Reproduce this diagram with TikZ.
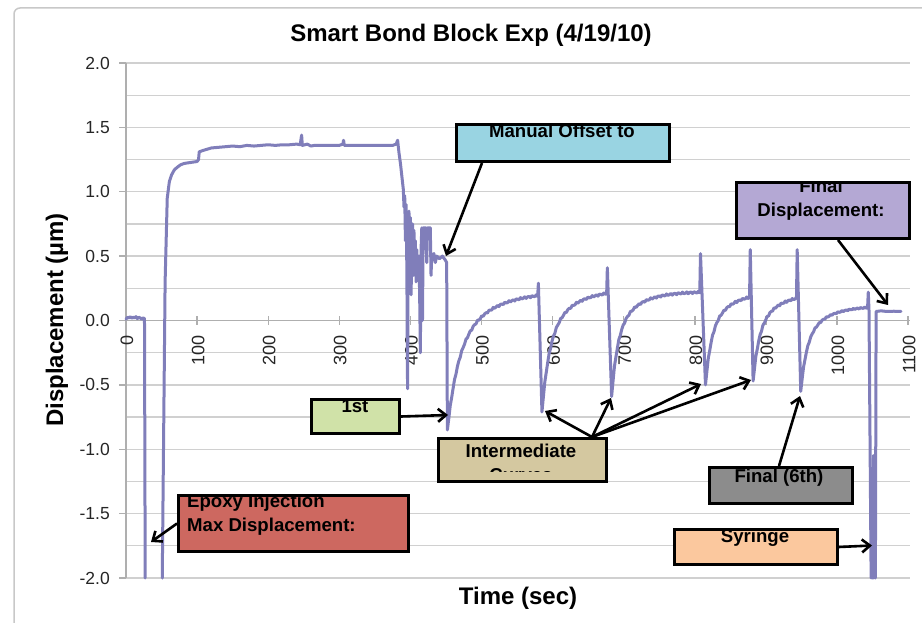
\documentclass[tikz,border=0pt]{standalone}
\usepackage{fontspec}
\setmainfont{Liberation Sans}
\usetikzlibrary{arrows.meta,calc}
\definecolor{gridc}{RGB}{208,208,208}
\definecolor{axisc}{RGB}{175,175,175}
\definecolor{framec}{RGB}{200,200,200}
\definecolor{curvec}{RGB}{128,126,186}
\definecolor{cblue}{RGB}{153,212,226}
\definecolor{cpurple}{RGB}{180,168,212}
\definecolor{cgreen}{RGB}{208,226,168}
\definecolor{ctan}{RGB}{212,200,160}
\definecolor{cgray}{RGB}{140,140,140}
\definecolor{cpeach}{RGB}{251,200,158}
\definecolor{cred}{RGB}{205,104,96}
\begin{document}
\begin{tikzpicture}[x=1pt,y=-1pt,
  gridline/.style={draw=gridc, line width=1.3pt},
  axisline/.style={draw=axisc, line width=1.4pt},
  curve/.style={draw=curvec, line width=3pt, line join=round, line cap=round},
  callout/.style={draw=black, line width=3pt, inner sep=0pt, anchor=north west},
  calltext/.style={font=\fontsize{18.6}{22}\selectfont\bfseries, inner sep=0pt, anchor=base},
  pointer/.style={draw=black, line width=2.6pt, -{Straight Barb[length=8pt,width=13pt,line width=2.6pt]}},
  ticklab/.style={font=\fontsize{17.5}{20}\selectfont, text=black!85, inner sep=0pt},
  xticklab/.style={font=\fontsize{18}{20}\selectfont, text=black!85, inner sep=0pt},
  axtitle/.style={font=\fontsize{24}{28}\selectfont\bfseries, inner sep=0pt},
  declare function={rec(\s,\a,\b)=0.57*(1-exp(-\s/\a))+0.43*(1-exp(-\s/\b));}
]
\useasboundingbox (0,0) rectangle (922,623);
\fill[white] (0,0) rectangle (922,623);
% outer chart frame
\draw[framec, line width=1.5pt, rounded corners=6pt] (14,8) rectangle (1000,700);

% title and axis titles
\node[axtitle] (title) at (471,35) {Smart Bond Block Exp (4/19/10)};
\node[axtitle, rotate=90] (ytitle) at (57,320) {Displacement (µm)};
\node[axtitle] (xtitle) at (518,598) {Time (sec)};

% grid
\foreach \i in {0,...,16}{
  \draw[gridline] (126,{63+\i*32.1875}) -- (910,{63+\i*32.1875});
}
\draw[axisline] (126,63) -- (126,578);
\draw[axisline] (126,320.5) -- (910,320.5);
% y ticks and labels
\foreach \lab [count=\k from 0] in {2.0,1.5,1.0,0.5,0.0,-0.5,-1.0,-1.5,-2.0}{
  \draw[axisline] (119,{63+\k*64.375}) -- (126,{63+\k*64.375});
  \node[ticklab, anchor=east] (yl\k) at (110,{63+\k*64.375}) {\lab};
}
% x ticks and labels
\foreach \t [count=\k] in {0,100,200,300,400,500,600,700,800,900,1000,1100}{
  \draw[axisline] ({126+\t*0.711},316) -- ({126+\t*0.711},325);
  \node[xticklab, rotate=90, anchor=east] (xl\k) at ({127+\t*0.711},335) {\t};
}

% data curve
\begin{scope}[shift={(126pt,-320.5pt)}, x=0.711pt, y=128.75pt]
\draw[curve] (0,0.01) -- (2,0.025) -- (4,0.02) -- (6,0.03) -- (8,0.018) -- (10,0.025) -- (12,0.02) -- (14,0.03) -- (16,0.015) -- (18,0.025) -- (20,0.02) -- (22,0.01) -- (24,0.02) -- (26,0.015) -- (27,-2);
\draw[curve] (51,-2) -- (55,0.3) -- (58,0.95) -- (61,1.08) -- (64,1.13) -- (68,1.17) -- (72,1.19) -- (77,1.21) -- (82,1.22) -- (88,1.225) -- (94,1.23) -- (100,1.235) -- (102,1.25) -- (103,1.31) -- (108,1.32) -- (114,1.33) -- (120,1.34) -- (130,1.345)
 -- (140,1.35) -- (150,1.355) -- (160,1.35) -- (170,1.36) -- (180,1.355) -- (190,1.36) -- (200,1.365) -- (210,1.36) -- (220,1.365) -- (230,1.365) -- (240,1.37) -- (245,1.365) -- (247,1.44) -- (248,1.36) -- (255,1.37) -- (260,1.355) -- (265,1.36) -- (270,1.36) -- (280,1.36) -- (290,1.36) -- (300,1.36) -- (305,1.37) -- (306,1.40) -- (307,1.36) -- (315,1.36) -- (325,1.36) -- (335,1.36) -- (345,1.36) -- (355,1.36) -- (365,1.36) -- (375,1.36) -- (380,1.37)
 -- (382,1.40) -- (384,1.30) -- (386,1.22) -- (388,1.12) -- (390,1.02) -- (391,0.88) -- (392,0.97) -- (393,0.62) -- (394,0.90) -- (395,0.40) -- (396,-0.53) -- (397,0.70) -- (398,0.85) -- (399,0.30) -- (400,0.80) -- (401,0.20) -- (402,0.62) -- (403,0.75) -- (404,0.35) -- (405,0.70) -- (406,0.45) -- (407,0.62) -- (408,0.30) -- (409,0.55) -- (410,0.40) -- (412,0.50) -- (413,0.20) -- (414,-0.25) -- (415,0.55) -- (416,0.72) -- (417,0.0) -- (418,0.72) -- (422,0.72) -- (423,0.45) -- (424,0.72) -- (428,0.72) -- (429,0.35) -- (430,0.50) -- (433,0.52) -- (435,0.45) -- (437,0.50) -- (441,0.48) -- (445,0.50) -- (449,0.47) -- (451,0.45) -- (452,-0.85)
 -- plot[domain=0:127, samples=64] ({452+\x},{-0.85+1.08*rec(\x,15,50)+0.008*sin(113*\x)})
 -- (580,0.29) -- (585,-0.71)
 -- plot[domain=0:91, samples=46] ({585+\x},{-0.71+0.95*rec(\x,10,35)+0.008*sin(113*\x)})
 -- (677,0.41) -- (683,-0.59)
 -- plot[domain=0:124, samples=62] ({683+\x},{-0.59+0.815*rec(\x,8,30)+0.008*sin(113*\x)})
 -- (808,0.52) -- (815,-0.50)
 -- plot[domain=0:62, samples=32] ({815+\x},{-0.50+0.72*rec(\x,8,30)+0.008*sin(113*\x)})
 -- (878,0.55) -- (882,-0.47)
 -- plot[domain=0:61, samples=32] ({882+\x},{-0.47+0.68*rec(\x,8,30)+0.008*sin(113*\x)})
 -- (944,0.55) -- (949,-0.55)
 -- plot[domain=0:94, samples=48] ({949+\x},{-0.55+0.663*rec(\x,8,30)+0.006*sin(113*\x)})
 -- (1044,0.22) -- (1045,0.08) -- (1048,-2);
\draw[curve] (1050,-2) -- (1051,-1.05) -- (1052,-2);
\draw[curve] (1054,-2) -- (1055,0.07) -- (1062,0.075) -- (1070,0.07) -- (1080,0.072) -- (1090,0.07);
\end{scope}

% callout boxes
\node[callout, fill=cblue, minimum width=213pt, minimum height=37pt] (mobox) at (455,123) {};
\node[callout, fill=cpurple, minimum width=173pt, minimum height=56pt] (fdbox) at (735,181) {};
\node[callout, fill=cgreen, minimum width=88pt, minimum height=34pt] (stbox) at (310,398) {};
\node[callout, fill=ctan, minimum width=168pt, minimum height=43pt] (imbox) at (437,437) {};
\node[callout, fill=cgray, minimum width=143pt, minimum height=36pt] (f6box) at (708,466) {};
\node[callout, fill=cpeach, minimum width=163pt, minimum height=35pt] (sybox) at (673,528) {};
\node[callout, fill=cred, minimum width=230pt, minimum height=56pt] (epbox) at (177,494) {};

% callout texts (clipped to the boxes)
\begin{scope}\clip (458,126) rectangle (665,157);
\node[calltext] (motext) at (562,138) {Manual Offset to};
\end{scope}
\begin{scope}\clip (738,184) rectangle (905,234);
\node[calltext] (fdtexta) at (821,193) {Final};
\node[calltext] (fdtextb) at (821,217) {Displacement:};
\end{scope}
\begin{scope}\clip (313,401) rectangle (395,429);
\node[calltext] (sttext) at (355,412) {1st};
\end{scope}
\begin{scope}\clip (440,440) rectangle (602,471);
\node[calltext] (imtexta) at (521,457) {Intermediate};
\node[calltext] (imtextb) at (521,481) {Curves};
\end{scope}
\begin{scope}\clip (711,469) rectangle (848,500);
\node[calltext] (f6text) at (779,482) {Final (6th)};
\end{scope}
\begin{scope}\clip (676,529.5) rectangle (833,560);
\node[calltext] (sytext) at (755,542) {Syringe};
\end{scope}
\begin{scope}\clip (180,497) rectangle (404,547);
\node[calltext, anchor=base west] (eptexta) at (187,507) {Epoxy Injection};
\node[calltext, anchor=base west] (eptextb) at (187,531) {Max Displacement:};
\end{scope}

% arrow targets
\coordinate (moTip) at (446,256);
\coordinate (fdTip) at (888,305);
\coordinate (stTip) at (448,415);
\coordinate (imTipA) at (545,411);
\coordinate (imTipB) at (611,398);
\coordinate (imTipC) at (701,384);
\coordinate (imTipD) at (751,380);
\coordinate (f6Tip) at (800,396);
\coordinate (syTip) at (872,545.5);
\coordinate (epTip) at (151,542);
\coordinate (imSrc) at ($(imbox.north west)+(155,0)$);

% arrows
\draw[pointer] ($(mobox.south west)+(27,0)$) -- (moTip);
\draw[pointer] ($(fdbox.south west)+(103,0)$) -- (fdTip);
\draw[pointer] (stbox.east) -- (stTip);
\draw[pointer] (imSrc) -- (imTipA);
\draw[pointer] (imSrc) -- (imTipB);
\draw[pointer] (imSrc) -- (imTipC);
\draw[pointer] (imSrc) -- (imTipD);
\draw[pointer] ($(f6box.north west)+(71,0)$) -- (f6Tip);
\draw[pointer] (sybox.east) -- (syTip);
\draw[pointer] (epbox.west) -- (epTip);
\end{tikzpicture}
\end{document}
